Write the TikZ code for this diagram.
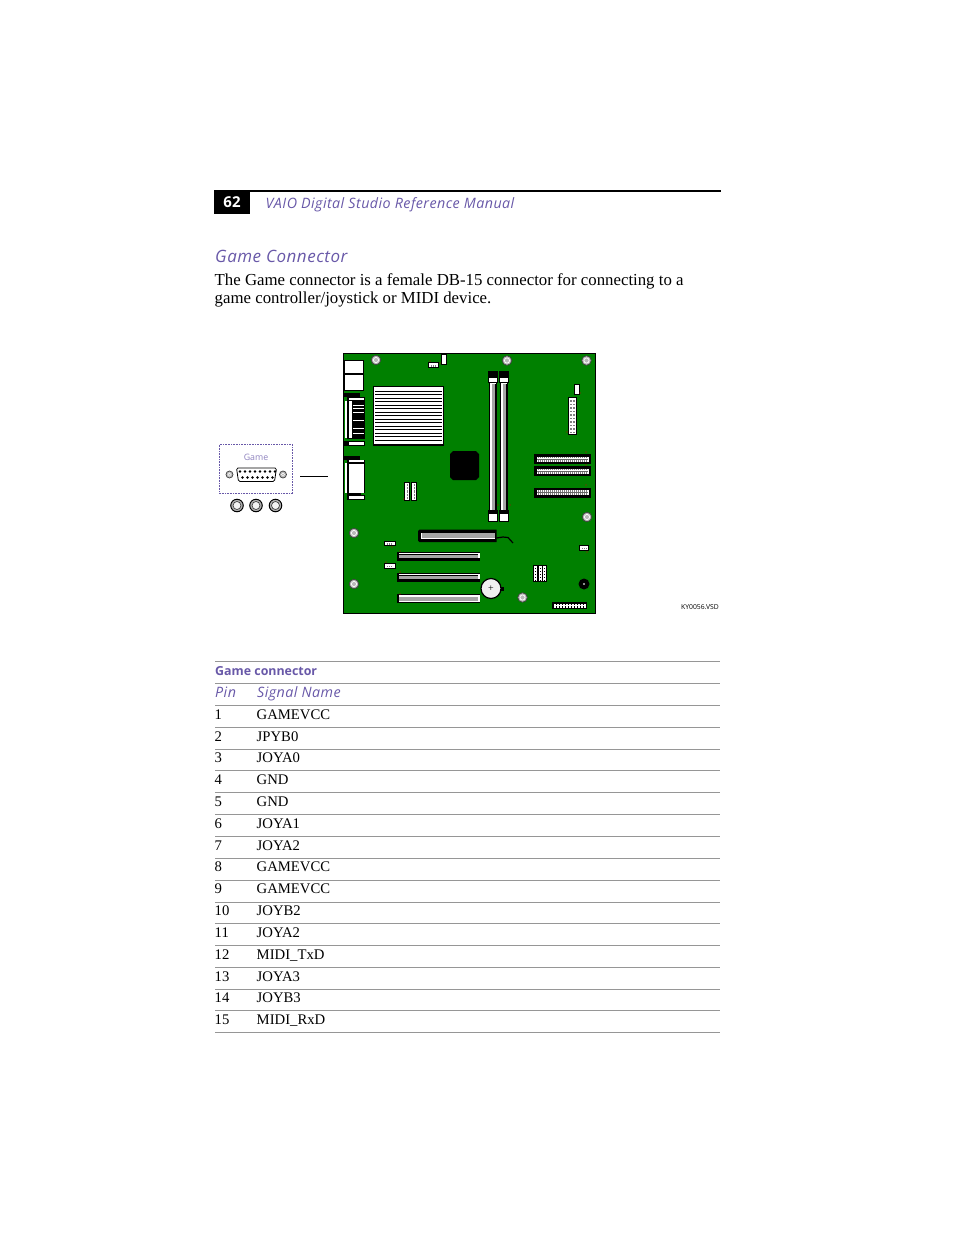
\documentclass[tikz,border=0pt]{standalone}
\usepackage{fontspec}
\setmainfont{Liberation Serif}
\newfontfamily\manualsans{Open Sans}
\newfontfamily\manualital[LetterSpace=3]{Open Sans}
\definecolor{manualpurple}{RGB}{104,88,168}
\definecolor{boardgreen}{RGB}{0,128,0}
\definecolor{rulegray}{RGB}{150,150,150}
\tikzset{
  body/.style={anchor=base west,inner sep=0pt,font=\fontsize{14.7}{18}\selectfont},
  para/.style={anchor=base west,inner sep=0pt,font=\fontsize{16.8}{18}\selectfont},
  head/.style={anchor=base west,inner sep=0pt,text=manualpurple,font=\manualital\itshape\fontsize{14.3}{16}\selectfont},
  part/.style={draw=black,fill=white,line width=0.8pt},
  screw/.style={circle,draw=black!75,fill=gray!55,line width=0.7pt,minimum size=9.5pt,inner sep=0pt}
}
\begin{document}
\begin{tikzpicture}[x=1pt,y=-1pt]
\useasboundingbox (0,0) rectangle (954,1235);
%page heading
\fill[black] (214,191) rectangle (250,214);
\draw[line width=2pt] (214,191) -- (721,191);
\node[text=white,inner sep=0pt,font=\manualsans\bfseries\fontsize{15}{16}\selectfont] (pagenum) at (232,202) {62};
\node[head] (manual) at (265.5,208) {VAIO Digital Studio Reference Manual};
\node[head,font=\manualital\itshape\fontsize{17}{18}\selectfont] (title) at (215,262) {Game Connector};
\node[para] (line1) at (214.5,285) {The Game connector is a female DB-15 connector for connecting to a};
\node[para] (line2) at (214.5,303) {game controller/joystick or MIDI device.};
%back panel
\draw[manualpurple,densely dotted,line width=0.6pt] (219.5,444.5) rectangle (292.5,493.5);
\node[inner sep=0pt,text=manualpurple!75,font=\manualsans\fontsize{8.8}{10}\selectfont] (game) at (256,457) {Game};
\draw[part,rounded corners=1.5pt] (236.5,468) -- (276.5,468) -- (274.5,481.5) -- (238.5,481.5) -- cycle;
\foreach \x in {240,245,...,275} \fill (\x,471.5) circle (1.4);
\foreach \x in {242.5,247.5,...,272.5} \fill (\x,477.5) circle (1.4);
\foreach \x/\n in {229.5/1,283/2} {
  \node[screw,minimum size=7pt] (panelscrew\n) at (\x,474.5) {};
  \draw[white,line width=0.5pt] (\x,474.5) circle (1.6);
}
\foreach \x/\n in {237/1,256/2,275.5/3} {
  \node[circle,draw=black,fill=gray!60,line width=1pt,minimum size=12.5pt,inner sep=0pt] (jack\n) at (\x,505.5) {};
  \draw[black!80,fill=white!90!gray,line width=0.6pt] (\x,505.5) circle (4);
}
\coordinate (leadA) at (300,476.5);
\coordinate (leadB) at (328,476.5);
\draw[line width=0.9pt] (leadA) -- (leadB);
%board
\draw[fill=boardgreen,line width=1pt] (343.5,353) rectangle (595.5,613);
\foreach \x/\y/\n in {376/360/1,507/360.5/2,586.5/360.5/3,587/517/4,354/533/5,354/584/6,522.5/597.5/7} {
  \node[screw] (hole\n) at (\x,\y) {};
  \draw[white,line width=0.7pt] (\x,\y) circle (2.6);
}
\node[circle,fill=black,minimum size=11pt,inner sep=0pt] (holeblack) at (584,584) {};
\fill[lightgray] (584,584) circle (1.2);
%ports at the left edge
\draw[part] (344,360.5) rectangle (363,373);
\draw[part] (344,374.5) rectangle (363,390);
\fill[black] (344,393) rectangle (360,397);
\fill[black] (347,397) rectangle (365,439);
\fill[black] (344,441) rectangle (365,446);
\fill[white] (345,401) rectangle (347,438);
\fill[white] (349,401) rectangle (352,438);
\fill[white] (349,397.5) rectangle (364,400);
\fill[white] (349,442) rectangle (364,445);
\foreach \y in {405,408,412,420,428,433}
  \draw[white,line width=0.8pt] (353,\y) -- (364,\y);
\fill[black] (344,456) rectangle (360,460);
\fill[black] (347,460) rectangle (365,500);
\fill[white] (345,463) rectangle (347,493);
\fill[white] (349,463) rectangle (364,492.5);
\fill[white] (349,459.5) rectangle (364,462);
\fill[white] (349,495.5) rectangle (364,499);
\draw[line width=0.8pt] (349,463) -- (364,463);
\fill[boardgreen] (361,493) rectangle (365,494.5);
%heat sink
\draw[part,line width=1.2pt] (373.5,386.5) rectangle (443.5,445);
\foreach \y in {391.3,394.8,...,442}
  \draw[line width=0.9pt] (375,\y) -- (442,\y);
%chip
\fill[black] (453,451) -- (476,451) -- (479,454) -- (479,477) -- (476,480) -- (453,480) -- (450,477) -- (450,454) -- cycle;
%memory slots
\foreach \x in {488,499} {
  \draw[part] (\x+1.5,381) rectangle (\x+8.5,512);
  \fill[gray!70] (\x+3.5,384) rectangle (\x+6.5,510);
  \draw[line width=0.8pt] (\x+7,384) -- (\x+7,510);
  \draw[part] (\x,371.5) rectangle (\x+9,382.5);
  \fill[black] (\x,371.5) rectangle (\x+9,378);
  \draw[part] (\x,510.5) rectangle (\x+9,521);
  \fill[black] (\x,510.5) rectangle (\x+9,514);
}
%headers at the right
\draw[part] (568.5,397.5) rectangle (576.5,434.5);
\foreach \y in {400,403.5,...,432} {
  \fill[gray] (570,\y) rectangle (571.5,\y+1.5);
  \fill[gray] (573,\y) rectangle (574.5,\y+1.5);
}
\draw[line width=1.2pt] (568.5,434.5) -- (576.5,434.5);
\draw[part] (574.5,384.5) rectangle (579,394.5);
\foreach \y in {454,466,487.5} {
  \fill[black] (534,\y) rectangle (591,\y+10);
  \fill[white] (536.5,\y+2.5) rectangle (589,\y+7.5);
  \foreach \x in {538,540,...,587} {
    \draw[gray,line width=0.5pt] (\x,\y+2.5) -- (\x,\y+4.2);
    \draw[gray,line width=0.5pt] (\x,\y+5.8) -- (\x,\y+7.5);
  }
  \draw[black!60,line width=0.5pt] (537,\y+5) -- (588,\y+5);
}
%small connectors
\draw[part,line width=1pt] (428.5,362.5) rectangle (438.5,367.5);
\draw[part,line width=1pt] (441.5,354.5) rectangle (446.5,364.5);
\foreach \x in {404.5,411.5} {
  \draw[part,line width=1pt] (\x,482) rectangle (\x+4.7,500.5);
  \draw[gray,densely dotted] (\x+2.3,484) -- (\x+2.3,499);
}
\draw[part,line width=1pt] (384.5,541) rectangle (395,545.5);
\draw[part,line width=1pt] (384.5,563.5) rectangle (395,568.5);
\draw[part,line width=1pt] (579.5,545.5) rectangle (588.5,550.5);
\foreach \x/\y in {387/543,389/543,391/543,387/565.5,389/565.5,391/565.5,582/547.5,584/547.5,586/547.5,431/365,433/365,435/365}
  \fill[gray] (\x,\y) rectangle (\x+1,\y+1.5);
%agp slot
\fill[black] (418,531) -- (419.5,529.5) -- (496.5,529.5) -- (496.5,542) -- (419.5,542) -- (418,540.5) -- cycle;
\fill[white] (421,532.5) rectangle (495,539);
\fill[gray!70] (422,532.5) rectangle (495,537.5);
\draw[black,line width=0.8pt] (422,532.7) -- (495,532.7);
\coordinate (wireA) at (496.5,538);
\coordinate (wireB) at (503,537);
\coordinate (wireC) at (508,537.5);
\coordinate (wireD) at (513,543);
\draw[line width=1.2pt] (wireA) -- (wireB) -- (wireC) -- (wireD);
%pci slots
\foreach \y in {552,573} {
  \fill[black] (397,\y) rectangle (480,\y+9);
  \fill[white] (398.5,\y+0.7) rectangle (479,\y+2);
  \fill[white] (478,\y+0.7) rectangle (479.5,\y+6);
  \fill[gray!70] (398.5,\y+3) rectangle (478,\y+5.5);
}
\fill[black] (397,594) rectangle (480,603);
\fill[white] (398.5,594.7) rectangle (479.5,602.3);
\fill[gray!70] (398.5,596.5) rectangle (478,600.5);
%jumper block
\fill[black] (533,565) rectangle (547,581.5);
\foreach \x in {534,538.5,543} {
  \fill[white] (\x,566) rectangle (\x+3,580.5);
  \foreach \y in {568,571,...,580} \fill[black] (\x+1,\y) rectangle (\x+2,\y+1);
}
%battery
\fill[black] (499,586.5) rectangle (504,591);
\node[circle,draw=black,fill=gray!12,line width=1.2pt,minimum size=20pt,inner sep=0pt,font=\fontsize{10}{10}\selectfont] (battery) at (491,588.5) {+};
%bottom header
\fill[black] (552,602) rectangle (587,609);
\fill[white] (553.5,603.5) rectangle (585.5,607.5);
\foreach \x in {556,559,...,585} {
  \draw[black,line width=0.6pt] (\x,603.5) -- (\x,604.8);
  \draw[black,line width=0.6pt] (\x,606.2) -- (\x,607.5);
}
%red marks
\foreach \x/\y in {430/361,440/363,580/393,567/432,586/452,586/465,586/485,498/505,510/505,392/547,400/551,386/562,400/572,400/594,404/499,587/552}
  \fill[red!80!black] (\x,\y) circle (0.7);
\node[inner sep=0pt,font=\manualsans\fontsize{6.8}{8}\selectfont] (drawing) at (700,607.5) {KY0056.VSD};
%table
\foreach \y in {661.5,683.5,705.5,727.5,749.5,770.5,792.5,814.5,836.5,858.5,880.5,902.5,923.5,945.5,967.5,989.5,1010.5,1032.5}
  \draw[rulegray,line width=0.7pt] (215,\y) -- (720,\y);
\node[head,font=\manualsans\bfseries\fontsize{12.4}{14}\selectfont] (tabletitle) at (215,675) {Game connector};
\node[head] (pinhead) at (215,697) {Pin};
\node[head] (signalhead) at (257,697) {Signal Name};
\foreach \n/\y/\sig in {1/719/GAMEVCC,2/741/JPYB0,3/762/JOYA0,4/784/GND,5/806/GND,6/828/JOYA1,7/850/JOYA2,8/871/GAMEVCC,9/893/GAMEVCC,10/915/JOYB2,11/937/JOYA2,12/959/MIDI\_TxD,13/981/JOYA3,14/1002/JOYB3,15/1024/MIDI\_RxD} {
  \node[body] (pin\n) at (214.5,\y) {\n};
  \node[body] (signal\n) at (256.5,\y) {\sig};
}
\end{tikzpicture}
\end{document}
